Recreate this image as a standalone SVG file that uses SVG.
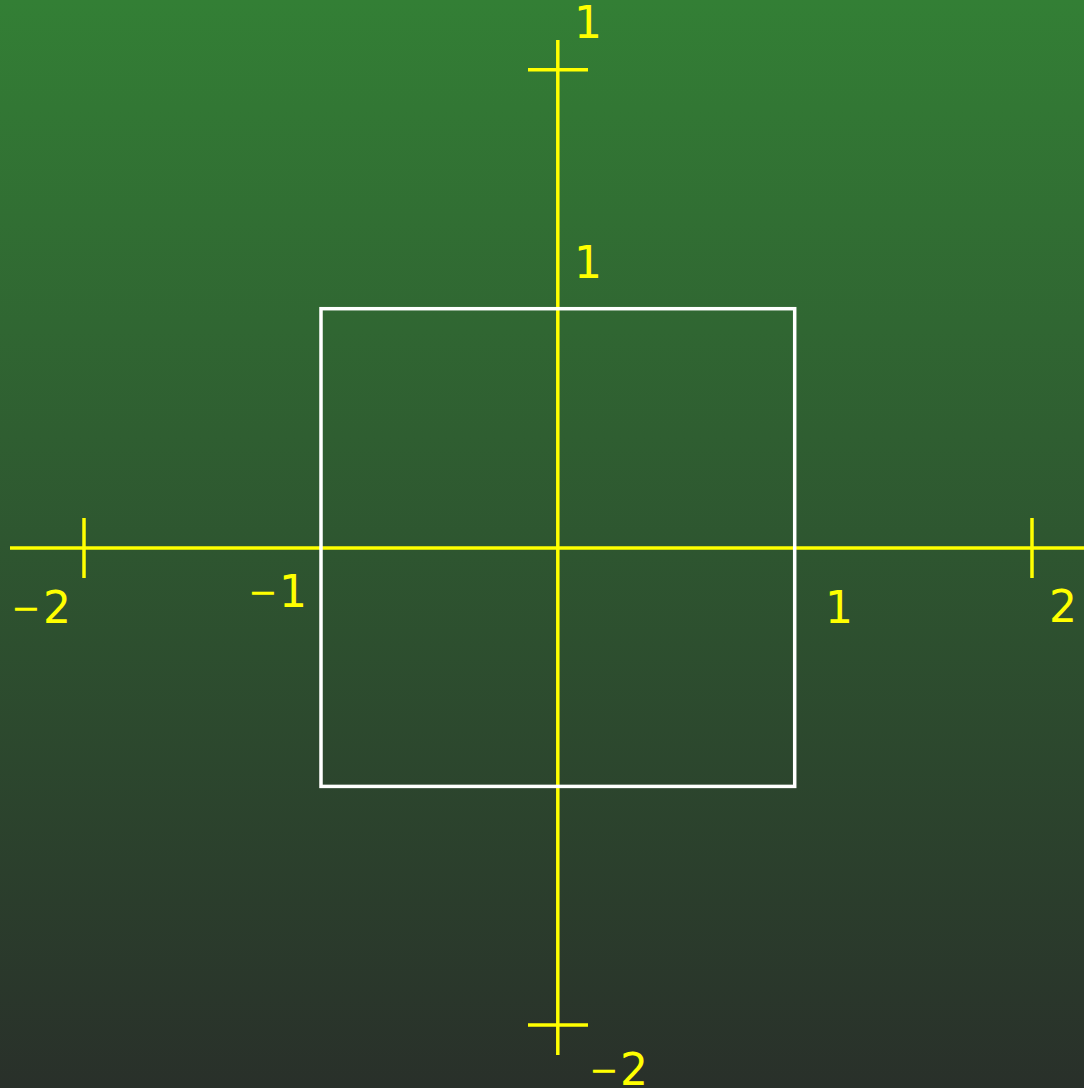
<svg xmlns="http://www.w3.org/2000/svg" width="1084" height="1088" viewBox="0 0 1084 1088">
<defs>
<linearGradient id="bg" x1="0" y1="0" x2="0" y2="1">
<stop offset="0" stop-color="#337f35"/>
<stop offset="0.5" stop-color="#2e5630"/>
<stop offset="1" stop-color="#29302a"/>
</linearGradient>
</defs>
<style>
.ax{stroke:#ffff00;stroke-width:3.5;fill:none}
.sq{stroke:#ffffff;stroke-width:3.5;fill:none}
.lb{fill:#ffff00;font-family:"DejaVu Sans",sans-serif;font-size:44px}
.mn{font-size:35px}
</style>
<rect width="1084" height="1088" fill="url(#bg)"/>
<g id="axes">
<line class="ax" x1="10" y1="548" x2="1084" y2="548"/>
<line class="ax" x1="557.8" y1="40" x2="557.8" y2="1055"/>
<line class="ax" x1="84" y1="518" x2="84" y2="578"/>
<line class="ax" x1="1032" y1="518" x2="1032" y2="578"/>
<line class="ax" x1="528" y1="69.7" x2="588" y2="69.7"/>
<line class="ax" x1="528" y1="1025" x2="588" y2="1025"/>
</g>
<g id="square">
<rect class="sq" x="321" y="308.7" width="473.7" height="477.7"/>
</g>
<g id="labels">
<text class="lb" x="574" y="38">1</text>
<text class="lb" x="574" y="278">1</text>
<text class="lb"><tspan class="mn" x="248" y="604">−</tspan><tspan x="279" y="607">1</tspan></text>
<text class="lb" x="825" y="623">1</text>
<text class="lb" x="1049" y="622">2</text>
<text class="lb"><tspan class="mn" x="11" y="620">−</tspan><tspan x="43" y="623">2</tspan></text>
<text class="lb"><tspan class="mn" x="589" y="1082">−</tspan><tspan x="620" y="1085">2</tspan></text>
</g>
</svg>
